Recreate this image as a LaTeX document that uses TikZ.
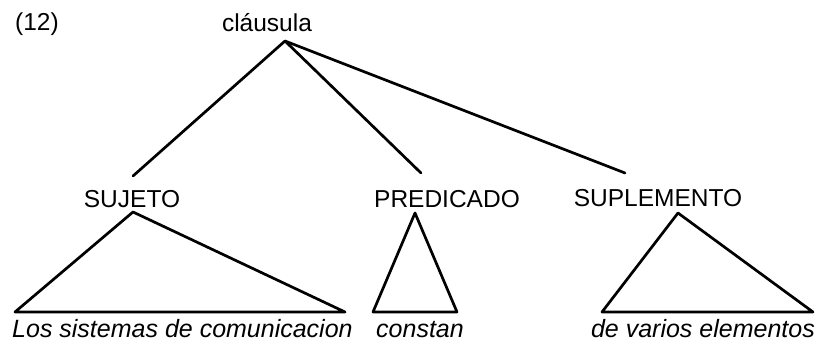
\documentclass[tikz,border=0pt]{standalone}
\usepackage{fontspec}
\setmainfont{Liberation Sans}
\begin{document}
\begin{tikzpicture}[x=1pt,y=-1pt,
  lbl/.style={inner sep=0pt,anchor=base,font=\fontsize{24.5}{28}\selectfont},
  leaf/.style={lbl,font=\fontsize{25}{28}\selectfont\itshape},
  edge/.style={line width=2.7pt,line cap=round,line join=round}]
\useasboundingbox (0,0) rectangle (825,345);
\node[lbl,anchor=base west] (n12) at (15,31) {(12)};
\node[lbl] (cl) at (267,32) {cláusula};
\coordinate (top) at (285,41);
\node[lbl] (suj) at (132,207) {SUJETO};
\node[lbl] (pred) at (447,207) {PREDICADO};
\node[lbl] (supl) at (658,206) {SUPLEMENTO};
\coordinate (e1) at (133,176);
\coordinate (e2) at (421,173);
\coordinate (e3) at (625,173);
\draw[edge] (top) -- (e1);
\draw[edge] (top) -- (e2);
\draw[edge] (top) -- (e3);
% triangles
\coordinate (a1) at (133,212);
\coordinate (l1) at (15,312);
\coordinate (r1) at (345,312);
\coordinate (a2) at (415,213);
\coordinate (l2) at (373,312);
\coordinate (r2) at (457,312);
\coordinate (a3) at (678,213);
\coordinate (l3) at (602,312);
\coordinate (r3) at (813,312);
\draw[edge] (a1) -- (l1) -- (r1) -- cycle;
\draw[edge] (a2) -- (l2) -- (r2) -- cycle;
\draw[edge] (a3) -- (l3) -- (r3) -- cycle;
\node[leaf,anchor=base west] (t1) at (12,337) {Los sistemas de comunicacion};
\node[leaf,anchor=base west] (t2) at (376,337) {constan};
\node[leaf,anchor=base east] (t3) at (815,337) {de varios elementos};
\end{tikzpicture}
\end{document}
